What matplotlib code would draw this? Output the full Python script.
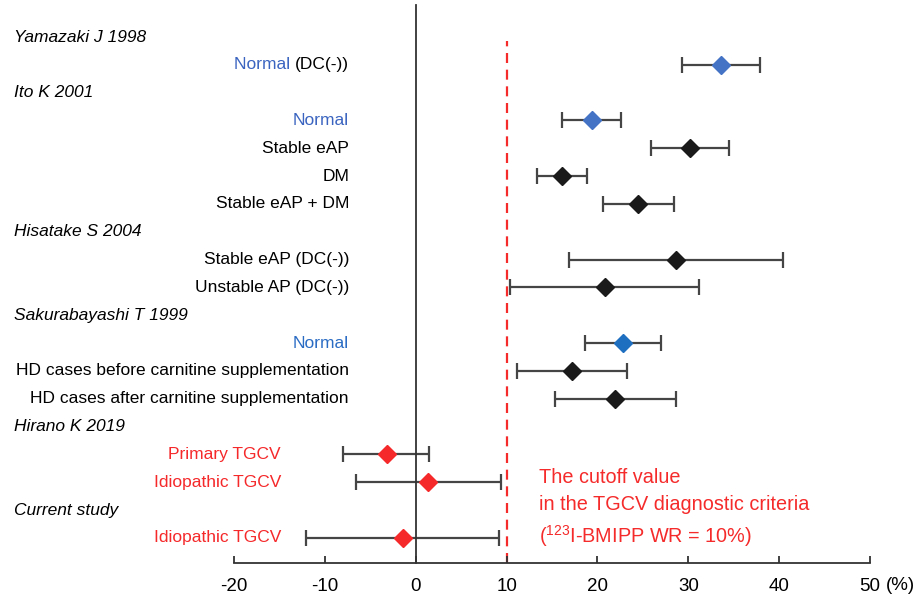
import matplotlib
matplotlib.use("Agg")
import matplotlib.pyplot as plt
import matplotlib.transforms as mtransforms

plt.rcParams['font.family'] = ['Liberation Sans', 'DejaVu Sans']
plt.rcParams['mathtext.fontset'] = 'custom'
plt.rcParams['mathtext.rm'] = 'Liberation Sans'

# rows from top to bottom: study headers and subgroups
row_labels = ["Yamazaki J 1998", "Normal", "Ito K 2001", "Normal", "Stable eAP", "DM",
              "Stable eAP + DM", "Hisatake S 2004", "Stable eAP (DC(-))",
              "Unstable AP (DC(-))", "Sakurabayashi T 1999", "Normal",
              "HD cases before carnitine supplementation",
              "HD cases after carnitine supplementation", "Hirano K 2019",
              "Primary TGCV", "Idiopathic TGCV", "Current study", "Idiopathic TGCV"]
is_header = [True, False, True, False, False, False, False, True, False, False,
             True, False, False, False, True, False, False, True, False]
wr_mean = [None, 33.6, None, 19.4, 30.2, 16.1, 24.5, None, 28.6, 20.8, None, 22.8,
           17.2, 21.9, None, -3.2, 1.4, None, -1.4]
wr_low = [None, 29.3, None, 16.1, 25.9, 13.3, 20.6, None, 16.9, 10.4, None, 18.6,
          11.2, 15.3, None, -8.0, -6.6, None, -12.1]
wr_high = [None, 37.9, None, 22.6, 34.5, 18.9, 28.4, None, 40.4, 31.2, None, 27.0,
           23.2, 28.6, None, 1.5, 9.4, None, 9.2]
group = [None, 'blue', None, 'blue', 'black', 'black', 'black', None, 'black', 'black',
         None, 'blue2', 'black', 'black', None, 'red', 'red', None, 'red']
xticks = [-20, -10, 0, 10, 20, 30, 40, 50]
cutoff = 10

colors = {'blue': '#4472c4', 'blue2': '#1f6fc0', 'black': '#1a1a1a', 'red': '#f5282a'}
text_colors = {'blue': '#3a64c0', 'blue2': '#2a6cc4', 'black': 'black', 'red': '#f5282a'}

fig = plt.figure(figsize=(9.19, 6.01), dpi=100)
ax = fig.add_axes([234 / 919, 1 - 563 / 601, 636 / 919, 558 / 601])

n = len(row_labels)
for i in range(n):
    if is_header[i]:
        continue
    lo = wr_mean[i] - wr_low[i]
    hi = wr_high[i] - wr_mean[i]
    ax.errorbar(wr_mean[i], i, xerr=[[lo], [hi]], fmt='none', ecolor='#454545',
                elinewidth=1.6, capsize=5.5, capthick=1.6, zorder=2)
    ax.plot(wr_mean[i], i, marker='D', ms=9.5, color=colors[group[i]],
            mec=colors[group[i]], zorder=3)

ax.set_xlim(-20, 50)
ax.set_ylim(18.9, -1.15)
ax.axvline(cutoff, ymin=0, ymax=0.935, color='#f52a2a', lw=1.6, ls=(0, (4.5, 3)), zorder=1)

for s in ['top', 'right']:
    ax.spines[s].set_visible(False)
ax.spines['left'].set_position(('data', 0))
ax.spines['left'].set_color('#333333')
ax.spines['left'].set_linewidth(1.3)
ax.spines['bottom'].set_color('#333333')
ax.spines['bottom'].set_linewidth(1.3)
ax.set_yticks([])
ax.set_xticks(xticks)
ax.set_xticklabels([str(t) for t in xticks], fontsize=13.5)
ax.tick_params(axis='x', direction='in', length=5, width=1.3, color='#333333', pad=11)

trans = mtransforms.blended_transform_factory(fig.transFigure, ax.transData)
for i in range(n):
    # red subgroup labels sit further left than the others
    right_x = 281 / 919 if group[i] == 'red' else 349 / 919
    if is_header[i]:
        ax.text(14 / 919, i, row_labels[i], transform=trans, fontsize=12.5,
                style='italic', ha='left', va='center')
    elif i == 1:
        t = ax.text(right_x, i, "(DC(-))", transform=trans, fontsize=12.5,
                    ha='right', va='center')
        ax.annotate("Normal ", xy=(0, 0), xycoords=t, ha='right', va='bottom',
                    fontsize=12.5, color=text_colors[group[i]])
    else:
        ax.text(right_x, i, row_labels[i], transform=trans, fontsize=12.5,
                ha='right', va='center', color=text_colors[group[i]])

pct_trans = mtransforms.blended_transform_factory(fig.transFigure, fig.transFigure)
ax.text(886 / 919, 1 - 585 / 601, "(%)", transform=pct_trans,
        fontsize=13.5, ha='left', va='center')

ax.text(13.6, 16.95, "The cutoff value\nin the TGCV diagnostic criteria\n"
        "($^{\\mathrm{123}}$I-BMIPP WR = 10%)", color='#f52a2a', fontsize=14.3,
        ha='left', va='center', linespacing=1.5)

fig.savefig("out.png", dpi=100)
